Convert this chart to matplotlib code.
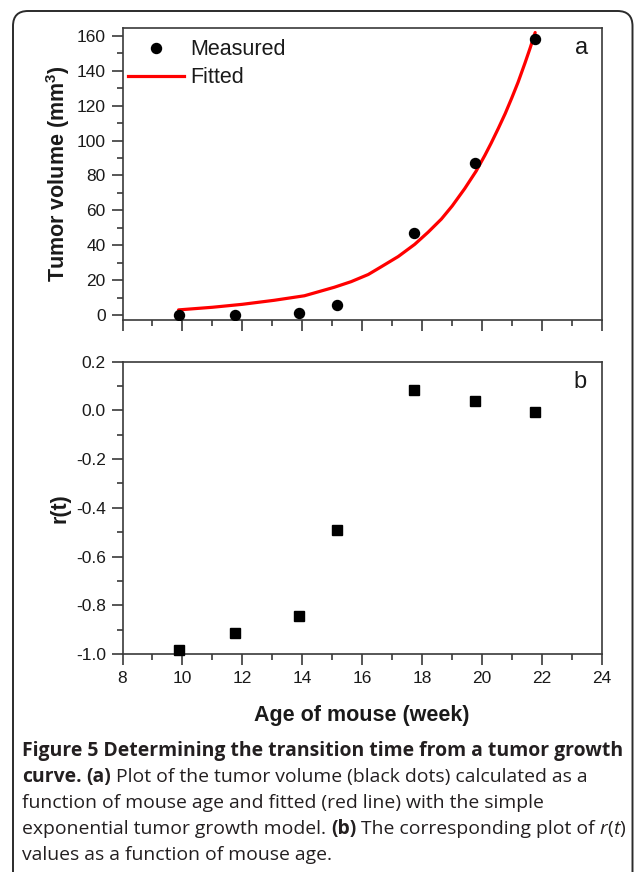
import matplotlib
matplotlib.use("Agg")
import matplotlib.pyplot as plt
from matplotlib.patches import FancyBboxPatch
from matplotlib.transforms import IdentityTransform
from matplotlib.ticker import MultipleLocator, FormatStrFormatter
from matplotlib.lines import Line2D

# ---- data -------------------------------------------------------------
age_weeks = [9.87, 11.75, 13.89, 15.16, 17.74, 19.75, 21.76]
tumor_volume = [0.2, 0.2, 1.1, 5.7, 47.2, 87.0, 158.3]
r_values = [-0.985, -0.915, -0.844, -0.492, 0.084, 0.039, -0.008]

# fitted exponential growth curve, sampled along its length
fit_age = [9.87, 11.0, 12.0, 13.06, 14.07, 15.07, 15.63, 16.2, 16.64, 17.2,
           17.75, 18.2, 18.64, 19.0, 19.42, 19.8, 20.09, 20.3, 20.54, 20.77,
           20.99, 21.2, 21.43, 21.6, 21.77]
fit_volume = [2.9, 4.4, 6.1, 8.4, 11.0, 15.9, 19.1, 23.2, 27.7, 33.5,
              40.5, 47.5, 55.0, 62.5, 72.5, 82.5, 91.5, 98.5, 107.0, 115.5,
              124.5, 133.5, 144.5, 153.0, 162.0]

x_ticks = [8, 10, 12, 14, 16, 18, 20, 22, 24]
volume_ticks = [0, 20, 40, 60, 80, 100, 120, 140, 160]
r_ticks = [-1.0, -0.8, -0.6, -0.4, -0.2, 0.0, 0.2]

legend_labels = ["Measured", "Fitted"]
volume_label = "Tumor volume (mm$^3$)"
r_label = "r(t)"
age_label = "Age of mouse (week)"

caption_lines = [
    [("Figure 5 Determining the transition time from a tumor growth", "bold", "normal")],
    [("curve.", "bold", "normal"), (" (a)", "bold", "normal"),
     (" Plot of the tumor volume (black dots) calculated as a", "normal", "normal")],
    [("function of mouse age and fitted (red line) with the simple", "normal", "normal")],
    [("exponential tumor growth model.", "normal", "normal"), (" (b)", "bold", "normal"),
     (" The corresponding plot of ", "normal", "normal"), ("r", "normal", "italic"),
     ("(", "normal", "normal"), ("t", "normal", "italic"), (")", "normal", "normal")],
    [("values as a function of mouse age.", "normal", "normal")],
]

# ---- style ------------------------------------------------------------
W, H = 634, 872
plt.rcParams["font.family"] = ["Liberation Sans", "DejaVu Sans"]
plt.rcParams["axes.unicode_minus"] = False
plt.rcParams["mathtext.fontset"] = "custom"
plt.rcParams["mathtext.rm"] = "Liberation Sans:bold"
plt.rcParams["mathtext.it"] = "Liberation Sans:bold"
plt.rcParams["mathtext.bf"] = "Liberation Sans:bold"

spine_col = "#3a3a3a"
text_col = "#1a1a1a"
tick_size = 12.5
label_size = 15.5

fig = plt.figure(figsize=(W / 100, H / 100), dpi=100)

# rounded outer frame
frame = FancyBboxPatch((13, -30), 619.5, H - 11 + 30,
                       boxstyle="round,pad=0,rounding_size=15",
                       transform=IdentityTransform(), fill=False,
                       edgecolor="#2b2b2b", linewidth=1.4)
fig.add_artist(frame)

ax1 = fig.add_axes([122.5 / W, 1 - 320 / H, 479.5 / W, 292 / H])
ax2 = fig.add_axes([122.5 / W, 1 - 654 / H, 479.5 / W, 292.3 / H])

for ax in (ax1, ax2):
    ax.set_xlim(8, 24)
    ax.set_xticks(x_ticks)
    ax.xaxis.set_minor_locator(MultipleLocator(1))
    for s in ax.spines.values():
        s.set_color(spine_col)
        s.set_linewidth(1.2)
    ax.tick_params(which="both", direction="out", top=False, right=False,
                   color=spine_col, width=1.2, labelsize=tick_size,
                   labelcolor=text_col)
    ax.tick_params(which="major", length=8, pad=4)
    ax.tick_params(which="minor", length=4.5)

# ---- panel a: tumor volume --------------------------------------------
ax1.set_ylim(-2.9, 164.6)
ax1.set_yticks(volume_ticks)
ax1.yaxis.set_minor_locator(MultipleLocator(10))
ax1.tick_params(axis="x", labelbottom=False)
ax1.plot(fit_age, fit_volume, color="#ff0000", linewidth=2.3, zorder=2,
         solid_capstyle="round", solid_joinstyle="round")
ax1.plot(age_weeks, tumor_volume, "o", color="black", markersize=7.2, zorder=3)
ax1.set_ylabel(volume_label, fontsize=label_size, fontweight="bold",
               color=text_col)
ax1.yaxis.set_label_coords(-0.105, 0.5)
ax1.text(0.9577, 0.93, "a", transform=ax1.transAxes, ha="center",
         va="center", fontsize=17, color=text_col)

handles = [Line2D([], [], marker="o", linestyle="none", color="black",
                  markersize=7.2),
           Line2D([], [], color="#ff0000", linewidth=2.3)]
leg = ax1.legend(handles, legend_labels, loc="upper left",
                 bbox_to_anchor=(0.0115, 0.962), frameon=False,
                 fontsize=15.5, handlelength=2.6, handletextpad=0.3,
                 labelspacing=0.34, borderpad=0, borderaxespad=0,
                 numpoints=1)
for t in leg.get_texts():
    t.set_color(text_col)

# ---- panel b: r(t) ----------------------------------------------------
ax2.set_ylim(-1.0, 0.2)
ax2.set_yticks(r_ticks)
ax2.yaxis.set_major_formatter(FormatStrFormatter("%.1f"))
ax2.yaxis.set_minor_locator(MultipleLocator(0.1))
ax2.plot(age_weeks, r_values, "s", color="black", markersize=6.6, zorder=3,
         clip_on=False)
ax2.set_ylabel(r_label, fontsize=label_size, fontweight="bold", color=text_col)
ax2.yaxis.set_label_coords(-0.108, 0.5)
ax2.set_xlabel(age_label, fontsize=label_size, fontweight="bold",
               color=text_col)
ax2.xaxis.set_label_coords(0.5, -0.175)
ax2.text(0.954, 0.932, "b", transform=ax2.transAxes, ha="center",
         va="center", fontsize=17, color=text_col)

# ---- caption ----------------------------------------------------------
cap_family = ["Open Sans", "DejaVu Sans"]
cap_col = "#231f20"
renderer = fig.canvas.get_renderer()


def text_width(s, size, weight, style):
    t = fig.text(0, 0, s, fontsize=size, fontweight=weight, fontstyle=style,
                 family=cap_family)
    w = t.get_window_extent(renderer).width
    t.remove()
    return w


def advance(s, size, weight, style):
    # width a run occupies when set between neighbouring glyphs
    return (text_width("n" + s + "n", size, weight, style)
            - text_width("nn", size, weight, style))


cap_size = 10.0
first_w = sum(advance(s, cap_size, w, st) for s, w, st in caption_lines[0])
cap_size = cap_size * 600 / first_w

cap_x0 = 22
cap_y0 = 756
cap_step = 26
for i, line in enumerate(caption_lines):
    x = cap_x0
    y = cap_y0 + i * cap_step
    for s, weight, style in line:
        lead = len(s) - len(s.lstrip(" "))
        core = s.strip(" ")
        trail = len(s) - len(s.rstrip(" "))
        if lead:
            x += advance(" " * lead, cap_size, weight, style)
        fig.text(x / W, 1 - y / H, core, fontsize=cap_size, fontweight=weight,
                 fontstyle=style, family=cap_family, color=cap_col,
                 va="baseline", ha="left")
        x += advance(core, cap_size, weight, style)
        if trail:
            x += advance(" " * trail, cap_size, weight, style)

fig.savefig("out.png", dpi=100, facecolor="white")
